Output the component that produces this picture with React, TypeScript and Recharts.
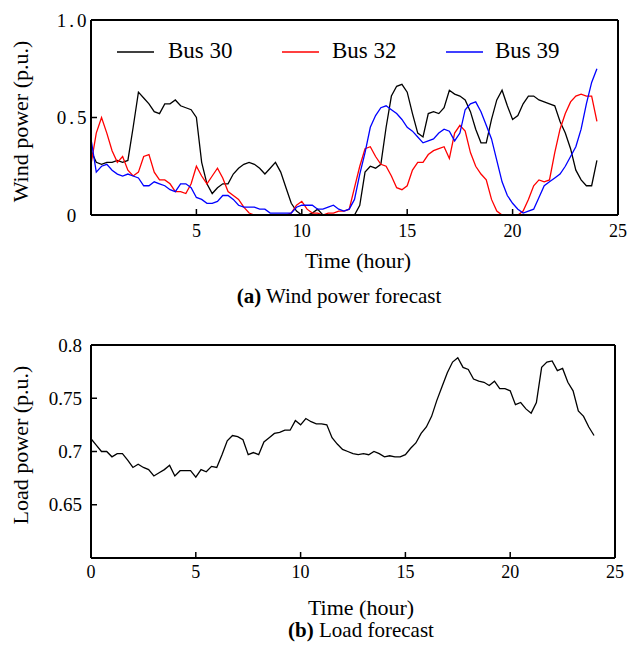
import React from 'react';
import { LineChart, Line, XAxis, YAxis, Legend } from 'recharts';

const hours = [
  0, 0.25, 0.5, 0.75, 1, 1.25, 1.5, 1.75, 2, 2.25, 2.5, 2.75, 3, 3.25, 3.5, 3.75,
  4, 4.25, 4.5, 4.75, 5, 5.25, 5.5, 5.75, 6, 6.25, 6.5, 6.75, 7, 7.25, 7.5, 7.75,
  8, 8.25, 8.5, 8.75, 9, 9.25, 9.5, 9.75, 10, 10.25, 10.5, 10.75, 11, 11.25, 11.5, 11.75,
  12, 12.25, 12.5, 12.75, 13, 13.25, 13.5, 13.75, 14, 14.25, 14.5, 14.75, 15, 15.25, 15.5, 15.75,
  16, 16.25, 16.5, 16.75, 17, 17.25, 17.5, 17.75, 18, 18.25, 18.5, 18.75, 19, 19.25, 19.5, 19.75,
  20, 20.25, 20.5, 20.75, 21, 21.25, 21.5, 21.75, 22, 22.25, 22.5, 22.75, 23, 23.25, 23.5, 23.75,
  24,
];

const bus30 = [
  0.33, 0.27, 0.26, 0.27, 0.27, 0.28, 0.27, 0.28,
  0.45, 0.63, 0.60, 0.57, 0.53, 0.52, 0.57, 0.57,
  0.59, 0.56, 0.55, 0.54, 0.50, 0.27, 0.16, 0.11,
  0.14, 0.16, 0.16, 0.21, 0.24, 0.26, 0.27, 0.26,
  0.24, 0.21, 0.24, 0.27, 0.22, 0.14, 0.06, 0.02,
  0.00, 0.00, 0.01, 0.03, 0.00, 0.00, 0.00, 0.00,
  0.00, 0.00, 0.00, 0.05, 0.22, 0.25, 0.24, 0.26,
  0.45, 0.61, 0.66, 0.67, 0.63, 0.52, 0.42, 0.40,
  0.52, 0.53, 0.52, 0.55, 0.64, 0.62, 0.61, 0.59,
  0.53, 0.44, 0.37, 0.37, 0.49, 0.59, 0.64, 0.56,
  0.49, 0.51, 0.57, 0.61, 0.61, 0.59, 0.58, 0.57,
  0.56, 0.48, 0.42, 0.34, 0.23, 0.18, 0.15, 0.15,
  0.28,
];

const bus32 = [
  0.26, 0.42, 0.50, 0.42, 0.33, 0.27, 0.30, 0.23,
  0.20, 0.22, 0.30, 0.31, 0.22, 0.18, 0.18, 0.16,
  0.12, 0.12, 0.11, 0.16, 0.25, 0.20, 0.16, 0.20,
  0.24, 0.19, 0.12, 0.10, 0.08, 0.04, 0.01, 0.00,
  0.00, 0.00, 0.00, 0.00, 0.00, 0.00, 0.01, 0.05,
  0.07, 0.03, 0.01, 0.01, 0.00, 0.01, 0.01, 0.02,
  0.02, 0.03, 0.14, 0.25, 0.34, 0.35, 0.30, 0.26,
  0.25, 0.20, 0.14, 0.13, 0.15, 0.23, 0.27, 0.27,
  0.31, 0.33, 0.34, 0.35, 0.29, 0.42, 0.46, 0.43,
  0.32, 0.25, 0.21, 0.18, 0.08, 0.02, 0.00, 0.00,
  0.00, 0.00, 0.02, 0.08, 0.15, 0.18, 0.17, 0.18,
  0.32, 0.44, 0.52, 0.58, 0.61, 0.62, 0.61, 0.61,
  0.48,
];

const bus39 = [
  0.39, 0.22, 0.25, 0.26, 0.23, 0.21, 0.20, 0.21,
  0.20, 0.19, 0.15, 0.15, 0.17, 0.16, 0.15, 0.13,
  0.12, 0.16, 0.16, 0.14, 0.09, 0.08, 0.06, 0.06,
  0.07, 0.10, 0.10, 0.08, 0.05, 0.04, 0.04, 0.04,
  0.03, 0.03, 0.01, 0.01, 0.01, 0.01, 0.01, 0.04,
  0.05, 0.05, 0.05, 0.03, 0.03, 0.04, 0.05, 0.03,
  0.02, 0.03, 0.08, 0.21, 0.32, 0.45, 0.51, 0.55,
  0.56, 0.54, 0.52, 0.49, 0.45, 0.43, 0.40, 0.37,
  0.38, 0.39, 0.42, 0.44, 0.43, 0.38, 0.42, 0.54,
  0.57, 0.58, 0.53, 0.46, 0.39, 0.28, 0.17, 0.10,
  0.06, 0.03, 0.01, 0.02, 0.03, 0.09, 0.15, 0.17,
  0.19, 0.21, 0.25, 0.30, 0.35, 0.44, 0.57, 0.68,
  0.75,
];

const load = [
  0.712, 0.706, 0.700, 0.700, 0.695, 0.698, 0.698, 0.692,
  0.685, 0.688, 0.685, 0.683, 0.677, 0.680, 0.683, 0.687,
  0.677, 0.682, 0.682, 0.682, 0.676, 0.683, 0.681, 0.686,
  0.685, 0.697, 0.710, 0.715, 0.714, 0.711, 0.697, 0.699,
  0.697, 0.709, 0.713, 0.717, 0.718, 0.720, 0.720, 0.729,
  0.725, 0.731, 0.728, 0.726, 0.726, 0.725, 0.713, 0.707,
  0.702, 0.700, 0.698, 0.697, 0.698, 0.697, 0.700, 0.698,
  0.695, 0.696, 0.695, 0.695, 0.697, 0.703, 0.708, 0.717,
  0.723, 0.733, 0.748, 0.761, 0.774, 0.784, 0.788, 0.779,
  0.777, 0.768, 0.766, 0.765, 0.762, 0.766, 0.759, 0.759,
  0.757, 0.744, 0.746, 0.740, 0.736, 0.746, 0.779, 0.784,
  0.785, 0.776, 0.778, 0.765, 0.757, 0.738, 0.733, 0.723,
  0.715,
];

const windXTicks = [5, 10, 15, 20, 25];
const loadXTicks = [0, 5, 10, 15, 20, 25];
const windYTicks = [0, 0.5, 1];
const windYLabels = ['0', '0.5', '1.0'];
const loadYTicks = [0.65, 0.7, 0.75, 0.8];
const loadYLabels = ['0.65', '0.7', '0.75', '0.8'];

const seriesNames = ['Bus 30', 'Bus 32', 'Bus 39'];
const seriesColors = ['#000000', '#ff0000', '#0000ff'];

const windData = hours.map((t, i) => ({ t, bus30: bus30[i], bus32: bus32[i], bus39: bus39[i] }));
const loadData = hours.map((t, i) => ({ t, load: load[i] }));

const FONT = '"Liberation Serif", "Times New Roman", Times, serif';
const AXIS_LINE = { stroke: '#000', strokeWidth: 2 };
const TICK_LINE = { stroke: '#000', strokeWidth: 1.5 };

const WindYTick = (props: any) => {
  const { y, payload } = props;
  const idx = windYTicks.indexOf(payload.value);
  const label = idx >= 0 ? windYLabels[idx] : String(payload.value);
  return (
    <text x={73} y={y} dy={6.5} textAnchor="middle" fontSize={19} fontFamily={FONT} fill="#000" letterSpacing={3}>
      {label}
    </text>
  );
};

const loadYFormat = (v: number) => {
  const idx = loadYTicks.indexOf(v);
  return idx >= 0 ? loadYLabels[idx] : String(v);
};

const legendLines = [117, 282, 446];
const legendTexts = [168, 332, 495];

const WindLegend = () => (
  <svg width={628} height={34} style={{ display: 'block' }}>
    {seriesNames.map((name, i) => (
      <g key={name}>
        <line x1={legendLines[i]} x2={legendLines[i] + 37} y1={15} y2={15} stroke={seriesColors[i]} strokeWidth={1.4} />
        <text x={legendTexts[i]} y={21} fontSize={23} fontFamily={FONT} fill="#000">
          {name}
        </text>
      </g>
    ))}
  </svg>
);

export default function App() {
  return (
    <div style={{ position: 'absolute', left: 0, top: 0, width: 628, height: 650, background: '#fff' }}>
      <div style={{ position: 'absolute', left: 0, top: 0 }}>
        <LineChart width={628} height={320} data={windData} margin={{ top: 19, right: 0, left: 0, bottom: 75 }}>
          <XAxis
            dataKey="t"
            type="number"
            domain={[0, 25]}
            ticks={windXTicks}
            height={30}
            axisLine={AXIS_LINE}
            tickLine={TICK_LINE}
            tickSize={-6}
            tickMargin={15}
            tick={{ fontSize: 18, fontFamily: FONT, fill: '#000' }}
          />
          <XAxis
            xAxisId="top"
            orientation="top"
            dataKey="t"
            type="number"
            domain={[0, 25]}
            ticks={windXTicks}
            height={1}
            axisLine={AXIS_LINE}
            tickLine={TICK_LINE}
            tickSize={-6}
            tick={false}
          />
          <YAxis
            type="number"
            domain={[0, 1]}
            ticks={windYTicks}
            width={91}
            axisLine={AXIS_LINE}
            tickLine={TICK_LINE}
            tickSize={-6}
            tick={<WindYTick />}
          />
          <YAxis
            yAxisId="right"
            orientation="right"
            type="number"
            domain={[0, 1]}
            ticks={windYTicks}
            width={10}
            axisLine={AXIS_LINE}
            tickLine={TICK_LINE}
            tickSize={-6}
            tick={false}
          />
          <Legend
            layout="horizontal"
            verticalAlign="middle"
            align="center"
            wrapperStyle={{ top: 37, left: 0, width: 628 }}
            content={() => <WindLegend />}
          />
          <Line type="linear" dataKey="bus30" name="Bus 30" stroke="#000000" strokeWidth={1.3} dot={false} isAnimationActive={false} />
          <Line type="linear" dataKey="bus32" name="Bus 32" stroke="#ff0000" strokeWidth={1.3} dot={false} isAnimationActive={false} />
          <Line type="linear" dataKey="bus39" name="Bus 39" stroke="#0000ff" strokeWidth={1.3} dot={false} isAnimationActive={false} />
          <Line
            xAxisId="top"
            yAxisId="right"
            type="linear"
            dataKey="bus30"
            stroke="none"
            strokeOpacity={0}
            dot={false}
            activeDot={false}
            legendType="none"
            isAnimationActive={false}
          />
        </LineChart>
      </div>
      <div style={{ position: 'absolute', left: 0, top: 320 }}>
        <LineChart width={628} height={330} data={loadData} margin={{ top: 24, right: 0, left: 0, bottom: 62 }}>
          <XAxis
            dataKey="t"
            type="number"
            domain={[0, 25]}
            ticks={loadXTicks}
            height={30}
            axisLine={AXIS_LINE}
            tickLine={TICK_LINE}
            tickSize={-6}
            tickMargin={13}
            tick={{ fontSize: 18, fontFamily: FONT, fill: '#000' }}
          />
          <XAxis
            xAxisId="top"
            orientation="top"
            dataKey="t"
            type="number"
            domain={[0, 25]}
            ticks={loadXTicks}
            height={1}
            axisLine={AXIS_LINE}
            tickLine={TICK_LINE}
            tickSize={-6}
            tick={false}
          />
          <YAxis
            type="number"
            domain={[0.6, 0.8]}
            ticks={loadYTicks}
            width={91}
            axisLine={AXIS_LINE}
            tickLine={TICK_LINE}
            tickSize={-6}
            tickMargin={15}
            tickFormatter={loadYFormat}
            tick={{ fontSize: 19, fontFamily: FONT, fill: '#000' }}
          />
          <YAxis
            yAxisId="right"
            orientation="right"
            type="number"
            domain={[0.6, 0.8]}
            ticks={loadYTicks}
            width={13}
            axisLine={AXIS_LINE}
            tickLine={TICK_LINE}
            tickSize={-6}
            tick={false}
          />
          <Line type="linear" dataKey="load" name="Load" stroke="#000000" strokeWidth={1.3} dot={false} isAnimationActive={false} />
          <Line
            xAxisId="top"
            yAxisId="right"
            type="linear"
            dataKey="load"
            stroke="none"
            strokeOpacity={0}
            dot={false}
            activeDot={false}
            legendType="none"
            isAnimationActive={false}
          />
        </LineChart>
      </div>
      <svg width={628} height={650} style={{ position: 'absolute', left: 0, top: 0, pointerEvents: 'none' }}>
        <text x={28} y={121.5} transform="rotate(-90 28 121.5)" textAnchor="middle" fontSize={22} fontFamily={FONT} fill="#000">
          Wind power (p.u.)
        </text>
        <text x={358} y={268} textAnchor="middle" fontSize={22} fontFamily={FONT} fill="#000">
          Time (hour)
        </text>
        <text x={339} y={303} textAnchor="middle" fontSize={21} fontFamily={FONT} fill="#000">
          <tspan fontWeight="bold">(a)</tspan> Wind power forecast
        </text>
        <text x={28} y={445} transform="rotate(-90 28 445)" textAnchor="middle" fontSize={22} fontFamily={FONT} fill="#000">
          Load power (p.u.)
        </text>
        <text x={361} y={615} textAnchor="middle" fontSize={22} fontFamily={FONT} fill="#000">
          Time (hour)
        </text>
        <text x={361} y={637} textAnchor="middle" fontSize={21} fontFamily={FONT} fill="#000">
          <tspan fontWeight="bold">(b)</tspan> Load forecast
        </text>
      </svg>
    </div>
  );
}
